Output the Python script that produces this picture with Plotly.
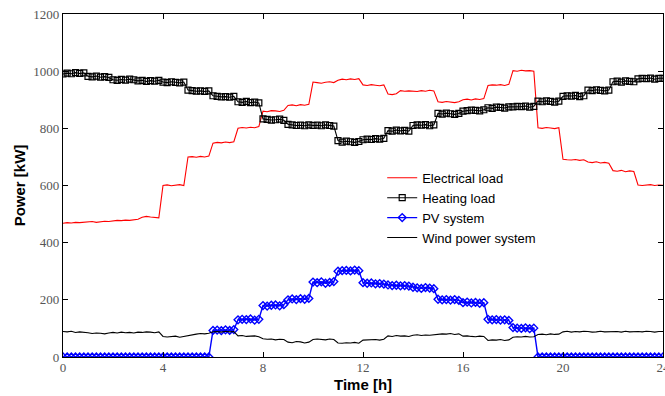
import numpy as np
import plotly.graph_objects as go

# time grid: 10-minute samples from 0 h to 24 h
time_h = np.arange(0, 24 * 6 + 1) / 6.0

electrical_load = [
    468, 470, 469, 471, 470, 472,
    472, 474, 471, 473, 475, 474,
    476, 478, 477, 479, 478, 480,
    482, 489, 492, 490, 488, 487,
    600, 602, 599, 601, 603, 600,
    700, 701, 699, 702, 700, 703,
    748, 751, 749, 752, 750, 753,
    800, 803, 801, 804, 802, 806,
    860, 858, 862, 861, 859, 863,
    880, 882, 879, 883, 881, 884,
    962, 960, 958, 961, 963, 960,
    968, 972, 970, 973, 971, 974,
    952, 950, 953, 951, 949, 952,
    920, 918, 921, 932, 930, 931,
    931, 929, 932, 930, 933, 931,
    893, 891, 894, 892, 890, 893,
    900, 902, 899, 903, 901, 904,
    950, 952, 951, 953, 950, 954,
    1002, 1000, 1003, 1001, 1002, 1000,
    802, 800, 803, 801, 799, 802,
    692, 690, 689, 691, 688, 690,
    682, 680, 683, 679, 681, 678,
    652, 650, 653, 648, 651, 649,
    602, 600, 601, 603, 600, 602,
    601,
]

heating_load = [
    990, 993, 991, 995, 992, 994,
    982, 980, 983, 979, 981, 978,
    970, 968, 971, 969, 972, 970,
    966, 968, 964, 967, 965, 968,
    962, 960, 963, 961, 959, 962,
    934, 932, 930, 931, 929, 931,
    914, 912, 910, 911, 909, 912,
    893, 891, 894, 890, 892, 889,
    833, 831, 829, 830, 832, 828,
    814, 812, 810, 811, 809, 812,
    810, 811, 809, 812, 810, 808,
    757, 752, 755, 753, 751, 754,
    760, 762, 761, 764, 762, 765,
    792, 790, 794, 791, 793, 790,
    810, 812, 811, 813, 809, 812,
    852, 850, 853, 851, 849, 852,
    860, 862, 864, 863, 861, 865,
    872, 870, 874, 873, 871, 875,
    875, 877, 876, 878, 874, 877,
    895, 893, 896, 894, 892, 895,
    912, 914, 913, 915, 911, 914,
    934, 932, 935, 933, 931, 934,
    963, 965, 962, 966, 964, 963,
    973, 975, 974, 976, 972, 975,
    975,
]

pv_system = [
    0, 0, 0, 0, 0, 0,
    0, 0, 0, 0, 0, 0,
    0, 0, 0, 0, 0, 0,
    0, 0, 0, 0, 0, 0,
    0, 0, 0, 0, 0, 0,
    0, 0, 0, 0, 0, 0,
    93, 94, 92, 95, 93, 96,
    130, 132, 131, 133, 129, 132,
    180, 178, 181, 182, 179, 183,
    200, 203, 201, 204, 202, 205,
    262, 260, 263, 258, 261, 264,
    300, 302, 303, 301, 304, 302,
    260, 258, 259, 256, 257, 255,
    252, 250, 251, 249, 250, 248,
    244, 242, 240, 243, 241, 239,
    202, 200, 201, 199, 201, 198,
    190, 192, 189, 191, 188, 190,
    132, 130, 131, 129, 130, 128,
    103, 101, 100, 102, 99, 101,
    0, 0, 0, 0, 0, 0,
    0, 0, 0, 0, 0, 0,
    0, 0, 0, 0, 0, 0,
    0, 0, 0, 0, 0, 0,
    0, 0, 0, 0, 0, 0,
    0,
]

wind_power = [
    89, 88, 90, 86, 88, 87,
    85, 82, 84, 83, 81, 84,
    86, 84, 87, 85, 86, 84,
    87, 86, 88, 87, 85, 88,
    72, 70, 71, 73, 69, 72,
    76, 78, 80, 82, 81, 83,
    88, 89, 87, 90, 88, 89,
    74, 75, 72, 73, 74, 71,
    64, 62, 63, 60, 62, 61,
    52, 50, 54, 53, 49, 52,
    61, 63, 62, 60, 63, 61,
    49, 48, 50, 49, 51, 48,
    59, 60, 62, 61, 59, 62,
    74, 72, 75, 73, 74, 72,
    76, 78, 75, 77, 76, 78,
    79, 81, 80, 82, 79, 81,
    73, 74, 72, 71, 73, 72,
    58, 60, 59, 61, 58, 60,
    69, 71, 70, 72, 70, 71,
    79, 80, 78, 81, 79, 80,
    88, 90, 87, 89, 88, 90,
    89, 87, 88, 90, 88, 89,
    88, 89, 87, 90, 88, 89,
    89, 88, 90, 89, 87, 89,
    89,
]

x_ticks = [0, 4, 8, 12, 16, 20, 24]
y_ticks = [0, 200, 400, 600, 800, 1000, 1200]

fig = go.Figure()
fig.add_trace(go.Scatter(x=time_h, y=electrical_load, mode="lines", name="Electrical load",
                         line=dict(color="#ff0000", width=1.1)))
fig.add_trace(go.Scatter(x=time_h, y=heating_load, mode="lines+markers", name="Heating load",
                         line=dict(color="#000000", width=1.1),
                         marker=dict(symbol="square-open", size=6, color="#000000",
                                     line=dict(width=1.2, color="#000000"))))
fig.add_trace(go.Scatter(x=time_h, y=pv_system, mode="lines+markers", name="PV system",
                         line=dict(color="#0000ff", width=1.4),
                         marker=dict(symbol="diamond-open", size=6, color="#0000ff",
                                     line=dict(width=1.4, color="#0000ff"))))
fig.add_trace(go.Scatter(x=time_h, y=wind_power, mode="lines", name="Wind power system",
                         line=dict(color="#000000", width=1.1)))

axis_common = dict(
    showline=True, linecolor="#000000", linewidth=1.2, mirror="ticks",
    ticks="inside", ticklen=5, tickwidth=1, tickcolor="#000000",
    showgrid=False, zeroline=False, ticklabeloverflow="allow", automargin=False,
    tickfont=dict(family="Liberation Serif", size=13, color="#555555"),
)

fig.update_xaxes(range=[0, 24], tickvals=x_ticks, ticktext=[str(v) for v in x_ticks],
                 ticklabelstandoff=-2, **axis_common)
fig.update_yaxes(range=[0, 1200], tickvals=y_ticks, ticktext=[str(v) for v in y_ticks],
                 title=dict(text="<b>Power [kW]</b>", standoff=4,
                            font=dict(family="Liberation Sans", size=15, color="#000000")),
                 **axis_common)

fig.add_annotation(text="<b>Time [h]</b>", xref="paper", yref="paper",
                   x=0.5, y=-0.081, xanchor="center", yanchor="middle", showarrow=False,
                   borderpad=0,
                   font=dict(family="Liberation Sans", size=15, color="#000000"))

fig.update_layout(
    width=665, height=396,
    margin=dict(l=63, r=2, t=14, b=39),
    plot_bgcolor="#ffffff", paper_bgcolor="#ffffff",
    legend=dict(x=0.532, y=0.566, xanchor="left", yanchor="top",
                bgcolor="rgba(0,0,0,0)", borderwidth=0,
                font=dict(family="Liberation Sans", size=13, color="#000000"),
                tracegroupgap=0, itemwidth=30),
    showlegend=True,
)

fig.write_html("out.html")
